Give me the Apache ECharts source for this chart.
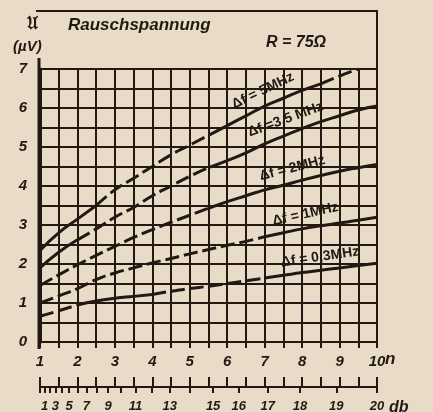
<!DOCTYPE html>
<html>
<head>
<meta charset="utf-8">
<script src="https://cdn.jsdelivr.net/npm/echarts@6/dist/echarts.min.js"></script>
<style>
  html, body { margin: 0; padding: 0; background: #e8dcc8; }
  #chart { width: 433px; height: 412px; }
</style>
</head>
<body>
<div id="chart"></div>
<script>
  // Rauschspannung u (µV) über Rauschzahl n, R = 75 Ohm
  var nNodes = [1, 1.5, 2, 2.5, 3, 3.5, 4, 4.5, 5, 5.5, 6, 6.5, 7, 7.5, 8, 8.5, 9, 9.5, 10]
  var u5  = [2.35, 2.8, 3.15, 3.5, 3.9, 4.2, 4.5, 4.8, 5.05, 5.3, 5.55, 5.8, 6.05, 6.25, 6.45, 6.62, 6.82, 7.0]
  var u35 = [1.9, 2.3, 2.62, 2.9, 3.2, 3.45, 3.75, 4.0, 4.25, 4.47, 4.65, 4.85, 5.08, 5.28, 5.47, 5.65, 5.8, 5.95, 6.05]
  var u2  = [1.45, 1.72, 1.98, 2.22, 2.45, 2.68, 2.88, 3.07, 3.25, 3.43, 3.6, 3.75, 3.9, 4.02, 4.15, 4.27, 4.38, 4.47, 4.55]
  var u1  = [1.0, 1.18, 1.37, 1.6, 1.77, 1.9, 2.03, 2.14, 2.26, 2.37, 2.48, 2.58, 2.7, 2.8, 2.9, 2.98, 3.05, 3.12, 3.2]
  var u03 = [0.66, 0.8, 0.95, 1.05, 1.12, 1.17, 1.22, 1.3, 1.37, 1.43, 1.5, 1.57, 1.64, 1.71, 1.78, 1.84, 1.9, 1.96, 2.02]

  // welche Abschnitte durchgezogen / gestrichelt gedruckt sind (n-Bereiche)
  var solid5 = [[1, 2.5], [5.5, 8.5]],  dash5 = [[2.5, 5.5], [8.5, 9.5]]
  var solid35 = [[1, 2], [5.5, 10]],     dash35 = [[2, 5.5]]
  var solid2 = [[5.5, 10]],              dash2 = [[1, 5.5]]
  var solid1 = [[7, 10]],                dash1 = [[1, 7]]
  var solid03 = [[2, 4], [7, 10]],       dash03 = [[1, 2], [4, 7]]

  var curveLabels = ['Δf = 5MHz', 'Δf =3,5 MHz', 'Δf = 2MHz', 'Δf = 1MHz', 'Δf = 0,3MHz']

  // dB-Skala (20·lg n) unter der n-Achse
  var dbTicks = [0, 1, 2, 3, 4, 5, 6, 7, 8, 9, 10, 11, 12, 13, 14, 15, 16, 17, 18, 19, 20]
  var dbLabels = [1, 3, 5, 7, 9, 11, 13, 15, 16, 17, 18, 19, 20]

  var ink = '#231812'
  var font = "'Liberation Sans', 'DejaVu Sans', sans-serif"

  function pick(vals, ranges) {
    return vals.map(function (u, i) {
      var n = nNodes[i]
      var inside = ranges.some(function (r) { return n >= r[0] - 1e-9 && n <= r[1] + 1e-9 })
      return [n, inside ? u : '-']
    })
  }
  function dbToN(d) { return Math.pow(10, d / 20) }

  var curves = [
    [u5, solid5, dash5], [u35, solid35, dash35], [u2, solid2, dash2],
    [u1, solid1, dash1], [u03, solid03, dash03]
  ]
  var series = []
  curves.forEach(function (c, k) {
    series.push({
      name: curveLabels[k], type: 'line', smooth: true, symbol: 'none',
      data: pick(c[0], c[1]), connectNulls: false,
      lineStyle: { color: ink, width: 3 }
    })
    series.push({
      name: curveLabels[k] + ' ', type: 'line', smooth: true, symbol: 'none',
      data: pick(c[0], c[2]), connectNulls: false,
      lineStyle: { color: ink, width: 3, type: [14, 5] }
    })
  })

  function curveText(k, x, y, rot) {
    return {
      type: 'text', x: x, y: y, rotation: rot,
      style: { text: curveLabels[k], align: 'center', verticalAlign: 'bottom', fill: ink, font: 'bold 14px ' + font }
    }
  }

  var graphics = [
    // Rahmen oben / rechts und Verlängerung der Ordinate
    { type: 'line', shape: { x1: 36, y1: 11, x2: 378, y2: 11 }, style: { stroke: ink, lineWidth: 2 } },
    { type: 'line', shape: { x1: 377, y1: 11, x2: 377, y2: 69 }, style: { stroke: ink, lineWidth: 2 } },
    { type: 'line', shape: { x1: 39, y1: 58, x2: 39, y2: 349 }, style: { stroke: ink, lineWidth: 3 } },
    { type: 'text', x: 27, y: 16, style: { text: '𝔘', fill: ink, font: 'bold 17px serif' } },
    { type: 'text', x: 13, y: 39, style: { text: '(µV)', fill: ink, font: 'italic bold 15px ' + font } },
    { type: 'text', x: 68, y: 17, style: { text: 'Rauschspannung', fill: ink, font: 'italic bold 17px ' + font } },
    { type: 'text', x: 266, y: 35, style: { text: 'R = 75Ω', fill: ink, font: 'italic bold 16px ' + font } },
    { type: 'text', x: 385, y: 351, style: { text: 'n', fill: ink, font: 'italic bold 17px ' + font } },
    { type: 'text', x: 389, y: 400, style: { text: 'db', fill: ink, font: 'italic bold 16px ' + font } },
    // Kurvenbeschriftungen, jeweils über der Kurve
    curveText(0, 266, 97, 0.45),
    curveText(1, 288, 126, 0.35),
    curveText(2, 294, 175, 0.25),
    curveText(3, 307, 221, 0.22),
    curveText(4, 321, 264, 0.14)
  ]

  var option = {
    backgroundColor: '#e8dcc8',
    animation: false,
    grid: [
      { left: 40, right: 56, top: 69, bottom: 70, show: true, borderColor: ink, borderWidth: 2, backgroundColor: 'transparent' },
      { left: 40, right: 56, top: 387, height: 0 }
    ],
    xAxis: [
      {
        type: 'value', gridIndex: 0, min: 1, max: 10, interval: 0.5,
        axisLine: { show: true, lineStyle: { color: ink, width: 2 } },
        axisTick: { show: true, length: 6, lineStyle: { color: ink, width: 2 } },
        splitLine: { show: true, lineStyle: { color: ink, width: 2 } },
        axisLabel: {
          margin: 12, color: ink, fontSize: 15, fontStyle: 'italic', fontWeight: 'bold', fontFamily: font,
          formatter: function (v) { return Number.isInteger(v) ? String(v) : '' }
        }
      },
      {
        type: 'value', gridIndex: 1, min: 1, max: 10, position: 'bottom',
        axisLine: { show: true, lineStyle: { color: ink, width: 2 } },
        axisTick: { show: true, length: 6, customValues: dbTicks.map(dbToN), lineStyle: { color: ink, width: 2 } },
        splitLine: { show: false },
        axisLabel: {
          margin: 13, color: ink, fontSize: 13, fontStyle: 'italic', fontWeight: 'bold', fontFamily: font,
          customValues: dbLabels.map(dbToN),
          formatter: function (v) { return String(Math.round(20 * Math.log10(v))) }
        }
      },
      {
        type: 'value', gridIndex: 1, min: 1, max: 10, interval: 0.5, position: 'top',
        axisLine: { show: false },
        axisTick: { show: true, length: 10, lineStyle: { color: ink, width: 2 } },
        splitLine: { show: false },
        axisLabel: { show: false }
      }
    ],
    yAxis: [
      {
        type: 'value', gridIndex: 0, min: 0, max: 7, interval: 0.5,
        axisLine: { show: true, lineStyle: { color: ink, width: 3 } },
        axisTick: { show: false },
        splitLine: { show: true, lineStyle: { color: ink, width: 2 } },
        axisLabel: {
          margin: 13, color: ink, fontSize: 15, fontStyle: 'italic', fontWeight: 'bold', fontFamily: font,
          formatter: function (v) { return Number.isInteger(v) ? String(v) : '' }
        }
      },
      { type: 'value', gridIndex: 1, show: false }
    ],
    graphic: graphics,
    series: series
  }

  var chart = echarts.init(document.getElementById('chart'))
  chart.setOption(option)
  window.addEventListener('resize', function () {
    chart.resize()
  })
</script>
</body>
</html>
